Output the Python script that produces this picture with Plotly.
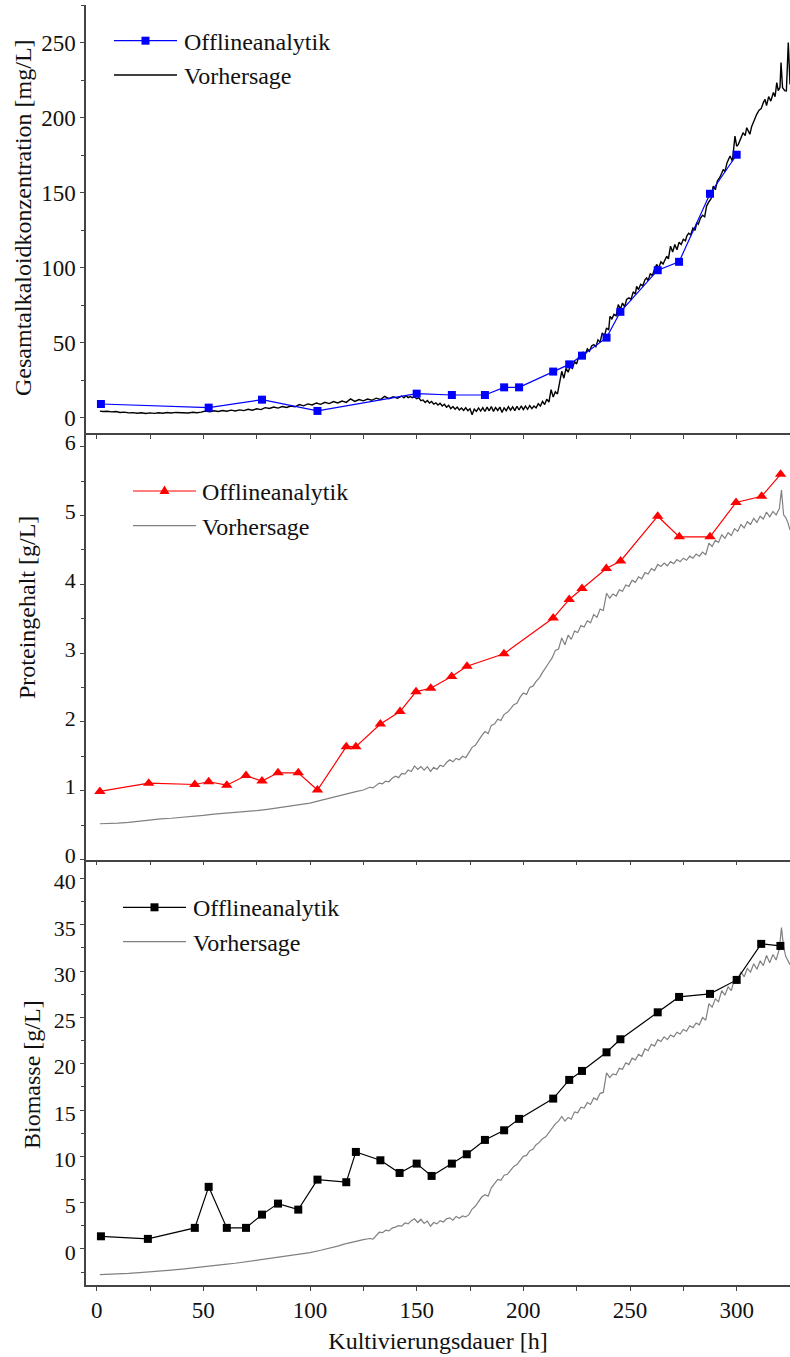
import plotly.graph_objects as go
from plotly.subplots import make_subplots

# ---------------- data ----------------
# Gesamtalkaloide: Offlineanalytik
t_alk = [2, 52.5, 77.5, 103.5, 150, 166.5, 182, 191, 198, 214, 221.5, 227.5,
         239, 245.5, 263, 273, 287.5, 300]
alk_off = [9.3, 6.9, 12.2, 4.7, 16.2, 15.3, 15.3, 20.4, 20.4, 30.9, 35.7, 41.5,
           53.5, 70.7, 98.4, 104.0, 149.3, 175.3]

# Gesamtalkaloide: Vorhersage, (t [h], c [mg/L])
alk_pred_pts = [
    (1.5, 4.6), (3, 4.3), (5, 4.5), (7, 4.1), (9, 4.3), (11, 3.7), (13, 3.9), (15, 3.4),
    (17, 3.6), (19, 3.2), (21, 3.5), (23, 3.0), (25, 3.4), (27, 3.1), (29, 3.5), (31, 3.2),
    (33, 3.6), (35, 3.3), (37, 3.7), (39, 3.4), (41, 3.6), (43, 3.3), (45, 3.8), (47, 3.5),
    (49, 3.9), (51, 4.6), (53, 4.1), (55, 4.8), (57, 4.3), (59, 5.0), (61, 4.5), (63, 5.2),
    (65, 4.7), (67, 5.4), (69, 4.9), (71, 5.8), (73, 5.2), (75, 6.1), (77, 5.6), (79, 6.9),
    (81, 6.3), (83, 7.3), (85, 6.6), (87, 7.6), (89, 7.0), (91, 8.0), (93, 7.4), (95, 8.9),
    (97, 8.1), (99, 9.4), (101, 8.7), (103, 10.0), (105, 9.1), (107, 10.4), (109, 9.6),
    (111, 10.9), (113, 10.0), (115, 11.3), (117, 10.4), (119, 12.7), (121, 11.0),
    (123, 12.3), (125, 11.4), (127, 12.6), (129, 11.8), (131, 13.2), (133, 12.3),
    (135, 14.4), (137, 12.9), (139, 14.1), (141, 13.2), (143, 14.6), (144, 13.4),
    (145, 14.8), (146, 13.6), (147, 14.3), (148, 13.5), (149, 14.0), (150, 12.8),
    (151, 13.4), (152, 11.5), (153, 12.0), (154, 10.3), (155, 11.6), (156, 10.0),
    (157, 11.0), (158, 9.2), (159, 10.1), (160, 8.6), (161, 9.8), (162, 8.0), (163, 9.1),
    (164, 7.2), (165, 8.4), (166, 6.2), (167, 7.6), (168, 5.8), (169, 7.3), (170, 5.3),
    (171, 6.6), (172, 5.0), (173, 6.8), (174, 4.8), (175, 6.2), (176, 2.2), (177, 5.9),
    (178, 4.4), (179, 6.7), (180, 4.6), (181, 6.9), (182, 4.3), (183, 7.2), (184, 4.8),
    (185, 7.6), (186, 4.4), (187, 7.0), (188, 5.0), (189, 7.3), (190, 3.7), (191, 6.8),
    (192, 4.9), (193, 7.5), (194, 5.2), (195, 7.4), (196, 4.9), (197, 7.8), (198, 5.3),
    (199, 8.0), (200, 5.6), (201, 7.9), (202, 5.8), (203, 8.3), (204, 6.2), (205, 8.0),
    (206, 6.7), (207, 9.5), (208, 8.0), (209, 11.0), (210, 9.0), (211, 12.5), (212, 10.5),
    (213, 18.9), (214, 14.0), (215, 17.5), (216, 16.0), (217, 24.0), (218, 31.1),
    (219, 26.5), (220, 33.0), (221, 30.5), (222, 34.4), (223, 33.0), (224, 37.5),
    (225, 36.0), (226, 41.1), (227, 39.5), (228, 44.0), (229, 42.0), (230, 46.0),
    (231, 44.5), (232, 48.0), (233, 48.9), (234, 47.5), (235, 52.0), (236, 50.5),
    (237, 56.7), (238, 54.5), (239, 60.0), (240, 58.5), (240.6, 67.7), (241.5, 66.0),
    (242.5, 69.0), (243.5, 68.0), (244.5, 75.5), (245.5, 72.5), (246.5, 76.5),
    (247.5, 74.0), (248.4, 78.9), (249.5, 80.0), (250.5, 79.0), (251.5, 84.0),
    (252.5, 82.5), (253.1, 87.7), (254, 85.5), (255, 89.0), (256, 88.0), (257, 92.0),
    (257.8, 93.3), (258.5, 91.5), (259.5, 96.0), (260.5, 95.0), (261.5, 99.0),
    (262.5, 102.2), (263.5, 100.0), (264.5, 104.0), (265.5, 102.5), (266.5, 106.0),
    (267.2, 107.7), (268, 106.0), (269, 114.4), (270, 110.5), (271, 115.5), (272, 112.0),
    (273, 117.0), (274, 115.5), (275, 119.0), (276, 118.0), (276.6, 121.1), (277.5, 123.0),
    (278.5, 122.0), (279.5, 126.5), (280.5, 125.0), (281.3, 130.0), (282, 129.0),
    (283, 133.0), (284, 135.0), (285, 134.0), (285.9, 141.1), (287, 144.0), (288, 146.0),
    (289, 154.4), (290, 152.0), (291, 158.0), (292, 160.0), (293, 163.0), (293.7, 165.5),
    (294.5, 164.0), (295.5, 170.0), (296.9, 174.4), (298, 171.0), (299.2, 187.7),
    (300, 181.0), (300.8, 182.2), (302, 186.0), (303, 190.0), (304, 188.0), (304.7, 193.3),
    (305.5, 191.0), (306.2, 188.9), (307, 194.0), (308, 198.0), (309.4, 202.2),
    (310.5, 205.0), (311.5, 206.0), (312.5, 210.0), (313.3, 212.2), (314, 208.0),
    (315, 214.0), (316, 211.0), (317.2, 216.7), (318, 214.0), (318.8, 223.3),
    (319.5, 218.0), (320.3, 220.0), (320.8, 236.7), (321.5, 220.0), (322.5, 218.0),
    (323.3, 217.8), (324.2, 250.0), (325, 222.0),
]

# Proteingehalt: Offlineanalytik
t_prot = [1.5, 24.4, 46, 52.5, 61, 70, 77.5, 85, 94.5, 103.5, 117, 121.5, 133, 142.2,
          149.7, 156.6, 166.4, 173.6, 190.9, 214, 221.5, 227.5, 238.9, 245.6, 263, 273.1,
          287.5, 299.7, 311.7, 320.6]
prot_off = [0.99, 1.11, 1.09, 1.13, 1.08, 1.22, 1.14, 1.26, 1.26, 1.01, 1.64, 1.64, 1.97,
            2.15, 2.44, 2.49, 2.66, 2.81, 2.99, 3.51, 3.78, 3.94, 4.23, 4.34, 4.99, 4.69,
            4.69, 5.19, 5.28, 5.60]

# Proteingehalt: Vorhersage, (t [h], c [g/L])
prot_pred_pts = [
    (1.5, 0.52), (5, 0.52), (10, 0.53), (15, 0.54), (20, 0.56), (25, 0.57), (30, 0.59),
    (35, 0.60), (40, 0.61), (45, 0.63), (50, 0.64), (55, 0.66), (60, 0.67), (65, 0.68),
    (70, 0.70), (75, 0.71), (80, 0.73), (85, 0.75), (90, 0.77), (95, 0.79), (100, 0.82),
    (105, 0.86), (110, 0.90), (113, 0.92), (116, 0.95), (119, 0.97), (122, 0.99),
    (125, 1.01), (128, 1.05), (129.5, 1.04), (131, 1.08), (132.5, 1.11), (134, 1.10),
    (135.5, 1.14), (137, 1.13), (138.5, 1.18), (140, 1.21), (141.5, 1.19), (143, 1.25),
    (144.5, 1.24), (146, 1.30), (147.5, 1.28), (149, 1.36), (150.5, 1.31), (152, 1.35),
    (153.5, 1.30), (155, 1.35), (156.5, 1.28), (158, 1.34), (159.5, 1.31), (161, 1.37),
    (162.5, 1.35), (164, 1.41), (165.5, 1.45), (167, 1.42), (168.5, 1.47), (170, 1.45),
    (171.5, 1.50), (173, 1.48), (174.5, 1.55), (176, 1.63), (177.5, 1.66), (179, 1.74),
    (180.5, 1.80), (182, 1.86), (183.5, 1.83), (185, 1.95), (186.5, 1.97), (188, 2.04),
    (189.5, 2.02), (191, 2.11), (192.5, 2.14), (194, 2.19), (195.5, 2.25), (197, 2.27),
    (198.5, 2.36), (200, 2.42), (201.5, 2.40), (203, 2.50), (204.5, 2.52), (206, 2.59),
    (207.5, 2.64), (209, 2.72), (210.5, 2.80), (212, 2.86), (213.5, 2.93), (215, 3.04),
    (216.5, 3.06), (218, 3.22), (219.5, 3.12), (221, 3.26), (222.5, 3.20), (224, 3.32),
    (225.5, 3.30), (227, 3.40), (228.5, 3.38), (230, 3.47), (231.5, 3.44), (233, 3.56),
    (234.5, 3.52), (236, 3.64), (237.5, 3.62), (239, 3.87), (240.5, 3.80), (242, 3.86),
    (243.5, 3.83), (245, 3.92), (246.5, 3.90), (248, 3.99), (249.5, 3.97), (251, 4.06),
    (252.5, 4.03), (254, 4.11), (255.5, 4.08), (257, 4.17), (258.5, 4.15), (260, 4.23),
    (261.5, 4.20), (263, 4.29), (264.5, 4.26), (266, 4.31), (267.5, 4.27), (269, 4.33),
    (270.5, 4.30), (272, 4.36), (273.5, 4.33), (275, 4.38), (276.5, 4.35), (278, 4.41),
    (279.5, 4.38), (281, 4.44), (282.5, 4.41), (284, 4.47), (285.5, 4.43), (287, 4.60),
    (288.5, 4.55), (290, 4.64), (291.5, 4.61), (293, 4.72), (294.5, 4.67), (296, 4.75),
    (297.5, 4.71), (299, 4.81), (300.5, 4.77), (302, 4.87), (303.5, 4.82), (305, 4.91),
    (306.5, 4.87), (308, 4.96), (309.5, 4.90), (311, 4.99), (312.5, 4.95), (314, 5.05),
    (315.5, 4.98), (317, 5.06), (318.5, 5.01), (320, 5.10), (321, 5.37), (322, 5.01),
    (323, 4.97), (324, 4.90), (325, 4.79),
]

# Biomasse: Offlineanalytik
t_bio = [2, 24, 46, 52.5, 61, 70, 77.5, 85, 94.5, 103.5, 117, 121.5, 133, 142, 150, 157,
         166.5, 173.5, 182, 191, 198, 214, 221.5, 227.5, 239, 245.5, 263, 273, 287.5, 300,
         311.5, 320.5]
bio_off = [1.36, 1.08, 2.27, 6.70, 2.27, 2.27, 3.70, 4.89, 4.24, 7.48, 7.2, 10.47, 9.57,
           8.2, 9.21, 7.88, 9.21, 10.22, 11.77, 12.81, 14.04, 16.23, 18.25, 19.22, 21.23,
           22.64, 25.55, 27.21, 27.54, 29.05, 32.94, 32.72]

# Biomasse: Vorhersage, (t [h], c [g/L])
bio_pred_pts = [
    (1.5, -2.78), (5, -2.76), (10, -2.70), (15, -2.64), (20, -2.56), (25, -2.49),
    (30, -2.40), (35, -2.30), (40, -2.19), (45, -2.08), (50, -1.95), (55, -1.82),
    (60, -1.68), (65, -1.55), (70, -1.38), (75, -1.22), (80, -1.07), (85, -0.92),
    (90, -0.76), (95, -0.58), (100, -0.40), (105, -0.15), (110, 0.10), (113, 0.30),
    (116, 0.52), (119, 0.65), (122, 0.83), (125, 1.00), (128, 1.12), (129.5, 1.05),
    (131, 1.45), (132.5, 1.80), (134, 1.75), (135.5, 2.02), (137, 1.95), (138.5, 2.25),
    (140, 2.35), (141.5, 2.50), (143, 2.45), (144.5, 2.80), (146, 2.70), (147.5, 3.05),
    (149, 3.25), (150.5, 2.85), (152, 3.20), (153.5, 2.75), (155, 3.00), (156.5, 2.45),
    (158, 2.85), (159.5, 2.70), (161, 3.05), (162.5, 2.90), (164, 3.25), (165.5, 3.35),
    (167, 3.10), (168.5, 3.50), (170, 3.30), (171.5, 3.55), (173, 3.45), (174.5, 3.70),
    (176, 4.30), (177.5, 4.60), (179, 5.10), (180.5, 5.60), (182, 5.86), (183.5, 5.70),
    (185, 6.60), (186.5, 7.00), (188, 7.50), (189.5, 7.40), (191, 7.95), (192.5, 8.05),
    (194, 8.50), (195.5, 8.90), (197, 9.10), (198.5, 9.60), (200, 10.00), (201.5, 10.10),
    (203, 10.60), (204.5, 10.75), (206, 11.25), (207.5, 11.50), (209, 11.90),
    (210.5, 12.10), (212, 12.60), (213.5, 13.00), (215, 13.50), (216.5, 13.80),
    (218, 14.30), (219.5, 13.80), (221, 14.20), (222.5, 14.00), (224, 14.80),
    (225.5, 14.70), (227, 15.30), (228.5, 15.20), (230, 15.80), (231.5, 15.60),
    (233, 16.30), (234.5, 16.10), (236, 16.80), (237.5, 16.90), (239, 19.00),
    (240.5, 18.50), (242, 18.90), (243.5, 18.80), (245, 19.50), (246.5, 19.40),
    (248, 20.10), (249.5, 19.90), (251, 20.60), (252.5, 20.40), (254, 21.00),
    (255.5, 20.80), (257, 21.60), (258.5, 21.40), (260, 22.10), (261.5, 21.90),
    (263, 22.60), (264.5, 22.40), (266, 22.90), (267.5, 22.60), (269, 23.10),
    (270.5, 22.90), (272, 23.40), (273.5, 23.20), (275, 23.70), (276.5, 23.50),
    (278, 24.10), (279.5, 23.90), (281, 24.40), (282.5, 24.20), (284, 25.00),
    (285.5, 24.70), (287, 26.50), (288.5, 26.10), (290, 27.00), (291.5, 26.70),
    (293, 27.90), (294.5, 27.40), (296, 28.30), (297.5, 27.90), (299, 29.20),
    (300.5, 28.80), (302, 29.90), (303.5, 29.40), (305, 30.30), (306.5, 29.90),
    (308, 30.80), (309.5, 30.20), (311, 31.10), (312.5, 30.60), (314, 31.70),
    (315.5, 30.90), (317, 31.80), (318.5, 31.20), (320, 32.40), (321, 34.70),
    (322, 32.60), (323, 31.60), (324, 31.20), (325, 30.70),
]

x_ticks = [0, 50, 100, 150, 200, 250, 300]
legend_labels = ["Offlineanalytik", "Vorhersage"]
y_titles = ["Gesamtalkaloidkonzentration [mg/L]", "Proteingehalt [g/L]", "Biomasse [g/L]"]
x_title = "Kultivierungsdauer [h]"

# ---------------- figure ----------------
W, H = 790, 1357
ML, MR, MT, MB = 86, 0, 5, 72
PW, PH = W - ML - MR, H - MT - MB
FONT = "Liberation Serif"
AX = "#444444"
INK = "#111111"


def fx(px):
    return (px - ML) / PW


def fy(py):
    return 1 - (py - MT) / PH


def unzip(pts):
    return [p[0] for p in pts], [p[1] for p in pts]


fig = make_subplots(rows=3, cols=1, shared_xaxes=True, vertical_spacing=0)

tx, ty = unzip(alk_pred_pts)
fig.add_trace(go.Scatter(x=tx, y=ty, mode="lines", name=legend_labels[1],
                         line=dict(color="black", width=1.4), showlegend=False), 1, 1)
fig.add_trace(go.Scatter(x=t_alk, y=alk_off, mode="lines+markers", name=legend_labels[0],
                         line=dict(color="#0000ff", width=1.2),
                         marker=dict(symbol="square", size=8, color="#0000ff"),
                         showlegend=False), 1, 1)

tx, ty = unzip(prot_pred_pts)
fig.add_trace(go.Scatter(x=tx, y=ty, mode="lines", name=legend_labels[1],
                         line=dict(color="#808080", width=1.2), showlegend=False), 2, 1)
fig.add_trace(go.Scatter(x=t_prot, y=prot_off, mode="lines+markers", name=legend_labels[0],
                         line=dict(color="#ff0000", width=1.2),
                         marker=dict(symbol="triangle-up", size=10, color="#ff0000"),
                         showlegend=False), 2, 1)

tx, ty = unzip(bio_pred_pts)
fig.add_trace(go.Scatter(x=tx, y=ty, mode="lines", name=legend_labels[1],
                         line=dict(color="#808080", width=1.2), showlegend=False), 3, 1)
fig.add_trace(go.Scatter(x=t_bio, y=bio_off, mode="lines+markers", name=legend_labels[0],
                         line=dict(color="black", width=1.2),
                         marker=dict(symbol="square", size=8, color="black"),
                         showlegend=False), 3, 1)

tickfont = dict(family=FONT, size=23, color=INK)
xcommon = dict(range=[-5, 325], showline=True, linecolor=AX, linewidth=1.5,
               ticks="outside", ticklen=4, tickwidth=1, tickcolor=AX,
               tickvals=x_ticks, showgrid=False, zeroline=False, tickfont=tickfont,
               minor=dict(dtick=25, tick0=0, ticks="outside", ticklen=4, tickcolor=AX))
fig.update_xaxes(**xcommon)
fig.update_xaxes(showticklabels=False, row=1, col=1)
fig.update_xaxes(showticklabels=False, row=2, col=1)
fig.update_xaxes(title=dict(text=x_title, font=dict(family=FONT, size=24, color=INK),
                            standoff=10), row=3, col=1)

ycommon = dict(showline=True, linecolor=AX, linewidth=1.5, ticks="outside", ticklen=4,
               tickwidth=1, tickcolor=AX, showgrid=False, zeroline=False, tickfont=tickfont)
fig.update_yaxes(**ycommon)
fig.update_yaxes(range=[-10, 275], dtick=50, tick0=0,
                 minor=dict(dtick=25, tick0=0, ticks="outside", ticklen=3, tickcolor=AX),
                 domain=[fy(433), 1.0], row=1, col=1)
# the lower two panels meet at 0 / 40: nudge their labels apart a little
fig.update_yaxes(range=[0, 6.2], dtick=1, tick0=0, ticklabelshift=-4,
                 tickfont=dict(family=FONT, size=22, color=INK),
                 minor=dict(dtick=0.5, tick0=0, ticks="outside", ticklen=3, tickcolor=AX),
                 domain=[fy(859.5), fy(433)], row=2, col=1)
fig.update_yaxes(range=[-3.9, 42], dtick=5, tick0=0, ticklabelshift=3,
                 tickfont=dict(family=FONT, size=22, color=INK),
                 minor=dict(dtick=2.5, tick0=0, ticks="outside", ticklen=3, tickcolor=AX),
                 domain=[0.0, fy(860)], row=3, col=1)

shapes = []
annotations = []
txtfont = dict(family=FONT, size=24, color=INK)


def legend_row(x0, x1, y, color, width, label, tx, marker=None):
    """One legend entry: line sample, optional marker glyph and label."""
    shapes.append(dict(type="line", xref="paper", yref="paper",
                       x0=fx(x0), x1=fx(x1), y0=fy(y), y1=fy(y),
                       line=dict(color=color, width=width)))
    cx = (x0 + x1) / 2
    if marker == "square":
        shapes.append(dict(type="rect", xref="paper", yref="paper",
                           x0=fx(cx - 4), x1=fx(cx + 4), y0=fy(y + 4), y1=fy(y - 4),
                           fillcolor=color, line=dict(width=0)))
    elif marker == "triangle":
        path = "M {:.5f} {:.5f} L {:.5f} {:.5f} L {:.5f} {:.5f} Z".format(
            fx(cx - 5), fy(y + 3), fx(cx + 5), fy(y + 3), fx(cx), fy(y - 5.5))
        shapes.append(dict(type="path", xref="paper", yref="paper", path=path,
                           fillcolor=color, line=dict(width=0)))
    annotations.append(dict(text=label, xref="paper", yref="paper", x=fx(tx), y=fy(y + 1),
                            xanchor="left", yanchor="middle", showarrow=False, font=txtfont))


legend_row(114, 177, 40.7, "#0000ff", 1.2, legend_labels[0], 182, "square")
legend_row(114, 177, 75.0, "black", 1.4, legend_labels[1], 182)
legend_row(133, 196, 491.0, "#ff0000", 1.2, legend_labels[0], 200, "triangle")
legend_row(133, 196, 525.7, "#808080", 1.2, legend_labels[1], 200)
legend_row(123, 186, 907.3, "black", 1.2, legend_labels[0], 191, "square")
legend_row(123, 186, 941.7, "#808080", 1.2, legend_labels[1], 191)

# y-axis titles
for text, cx, cy in zip(y_titles, [23, 27, 32], [218, 608, 1075]):
    annotations.append(dict(text=text, xref="paper", yref="paper", x=fx(cx), y=fy(cy),
                            xanchor="center", yanchor="middle", textangle=-90,
                            showarrow=False, font=txtfont))

fig.update_layout(width=W, height=H, margin=dict(l=ML, r=MR, t=MT, b=MB),
                  plot_bgcolor="white", paper_bgcolor="white",
                  font=dict(family=FONT, color=INK),
                  shapes=shapes, annotations=annotations, showlegend=False)

fig.write_html("out.html")
